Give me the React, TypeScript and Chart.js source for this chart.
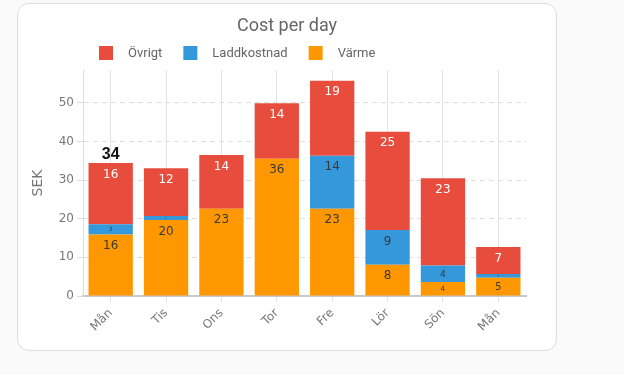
import React, { useEffect, useRef } from "react";
import { Chart, registerables } from "chart.js";

Chart.register(...registerables);

const categories = ["Mån", "Tis", "Ons", "Tor", "Fre", "Lör", "Sön", "Mån"];
const varme = [15.9, 19.7, 22.6, 35.5, 22.6, 8.1, 3.6, 4.7];
const laddkostnad = [2.7, 1.0, 0, 0, 13.7, 9.0, 4.3, 1.0];
const ovrigt = [15.8, 12.4, 13.9, 14.4, 19.4, 25.4, 22.6, 7.0];
const yTicks = [0, 10, 20, 30, 40, 50];
const totalLabelIndexes = [0];
const chartTitle = "Cost per day";
const yTitle = "SEK";

const COLORS = { varme: "#FF9800", ladd: "#3498DB", ovrigt: "#E84C3D" };

const headerPlugin = {
  id: "header",
  afterDraw(chart: any) {
    const ctx = chart.ctx;
    ctx.save();
    ctx.fillStyle = "#666";
    ctx.font = "18px Roboto";
    ctx.textAlign = "center";
    ctx.textBaseline = "middle";
    ctx.fillText(chartTitle, chart.width / 2, 22);
    // legend (reverse dataset order)
    ctx.font = "13px Roboto";
    ctx.textAlign = "left";
    let x = chart.chartArea.left + 16;
    const cy = 49;
    const ds = chart.data.datasets.slice().reverse();
    ds.forEach((d: any) => {
      ctx.fillStyle = d.backgroundColor;
      ctx.fillRect(x, cy - 7, 14, 14);
      x += 14 + 15;
      ctx.fillStyle = "#666";
      ctx.fillText(d.label, x, cy + 1);
      x += ctx.measureText(d.label).width + 21;
    });
    ctx.restore();
  },
};

const labelPlugin = {
  id: "segLabels",
  afterDatasetsDraw(chart: any) {
    const ctx = chart.ctx;
    ctx.save();
    ctx.textAlign = "center";
    ctx.textBaseline = "middle";
    chart.data.datasets.forEach((d: any, i: number) => {
      const meta = chart.getDatasetMeta(i);
      meta.data.forEach((el: any, j: number) => {
        const v = d.data[j];
        if (!v || v <= 0) return;
        const top = Math.min(el.y, el.base);
        const h = Math.abs(el.base - el.y);
        const fs = h >= 22 ? 12 : Math.max(3, h * 0.55);
        ctx.font = `${fs}px "DejaVu Sans"`;
        ctx.fillStyle = d.labelColor;
        ctx.fillText(String(Math.round(v)), el.x, top + Math.min(11, h / 2) + 0.5);
      });
    });
    // totals
    const last = chart.getDatasetMeta(chart.data.datasets.length - 1);
    totalLabelIndexes.forEach((j) => {
      const el = last.data[j];
      let sum = 0;
      chart.data.datasets.forEach((d: any) => (sum += d.data[j] || 0));
      ctx.font = 'bold 16px "Liberation Sans"';
      ctx.fillStyle = "#111";
      ctx.fillText(String(Math.round(sum)), el.x, Math.min(el.y, el.base) - 9);
    });
    ctx.restore();
  },
};

export default function App() {
  const ref = useRef<HTMLCanvasElement>(null);
  useEffect(() => {
    if (!ref.current) return;
    const chart = new Chart(ref.current, {
      type: "bar",
      data: {
        labels: categories,
        datasets: [
          { label: "Värme", data: varme, backgroundColor: COLORS.varme, labelColor: "#3a3a3a" } as any,
          { label: "Laddkostnad", data: laddkostnad, backgroundColor: COLORS.ladd, labelColor: "#3a3a3a" } as any,
          { label: "Övrigt", data: ovrigt, backgroundColor: COLORS.ovrigt, labelColor: "#ffffff" } as any,
        ],
      },
      options: {
        animation: false,
        responsive: false,
        layout: { padding: { top: 66, right: 30, left: 0, bottom: 0 } },
        datasets: { bar: { barPercentage: 0.8, categoryPercentage: 1 } },
        plugins: { legend: { display: false }, title: { display: false }, tooltip: { enabled: false } },
        scales: {
          x: {
            stacked: true,
            grid: { color: "#e3e3e3", offset: false, tickLength: 6, drawOnChartArea: true },
            border: { color: "#c8c8c8", width: 2 },
            ticks: {
              color: "#777",
              font: { family: "DejaVu Sans", size: 12 },
              maxRotation: 45,
              minRotation: 45,
              padding: 4,
            },
            afterFit: (s: any) => {
              s.height = 54;
            },
          },
          y: {
            stacked: true,
            min: 0,
            max: 58.5,
            grid: { color: "#dedede", tickLength: 6 },
            border: { color: "#dddddd", width: 1, dash: [5, 4] },
            ticks: {
              color: "#777",
              font: { family: "DejaVu Sans", size: 12 },
              stepSize: 10,
              padding: 3,
            },
            afterBuildTicks: (s: any) => {
              s.ticks = yTicks.map((v) => ({ value: v }));
            },
            title: {
              display: true,
              text: yTitle,
              color: "#777",
              font: { family: "DejaVu Sans", size: 14 },
              padding: { top: 12, bottom: 4 },
            },
            afterFit: (s: any) => {
              s.width = 65;
            },
          },
        },
      },
      plugins: [headerPlugin, labelPlugin],
    });
    return () => chart.destroy();
  }, []);
  return (
    <div style={{ position: "absolute", left: 0, top: 0, width: 624, height: 375, background: "#fafafa" }}>
      <div
        style={{
          position: "absolute",
          left: 17,
          top: 3,
          width: 538,
          height: 346,
          border: "1px solid #dddddd",
          borderRadius: 12,
          background: "#fff",
          overflow: "hidden",
        }}
      >
        <canvas ref={ref} width={538} height={346} style={{ display: "block" }} />
      </div>
    </div>
  );
}
